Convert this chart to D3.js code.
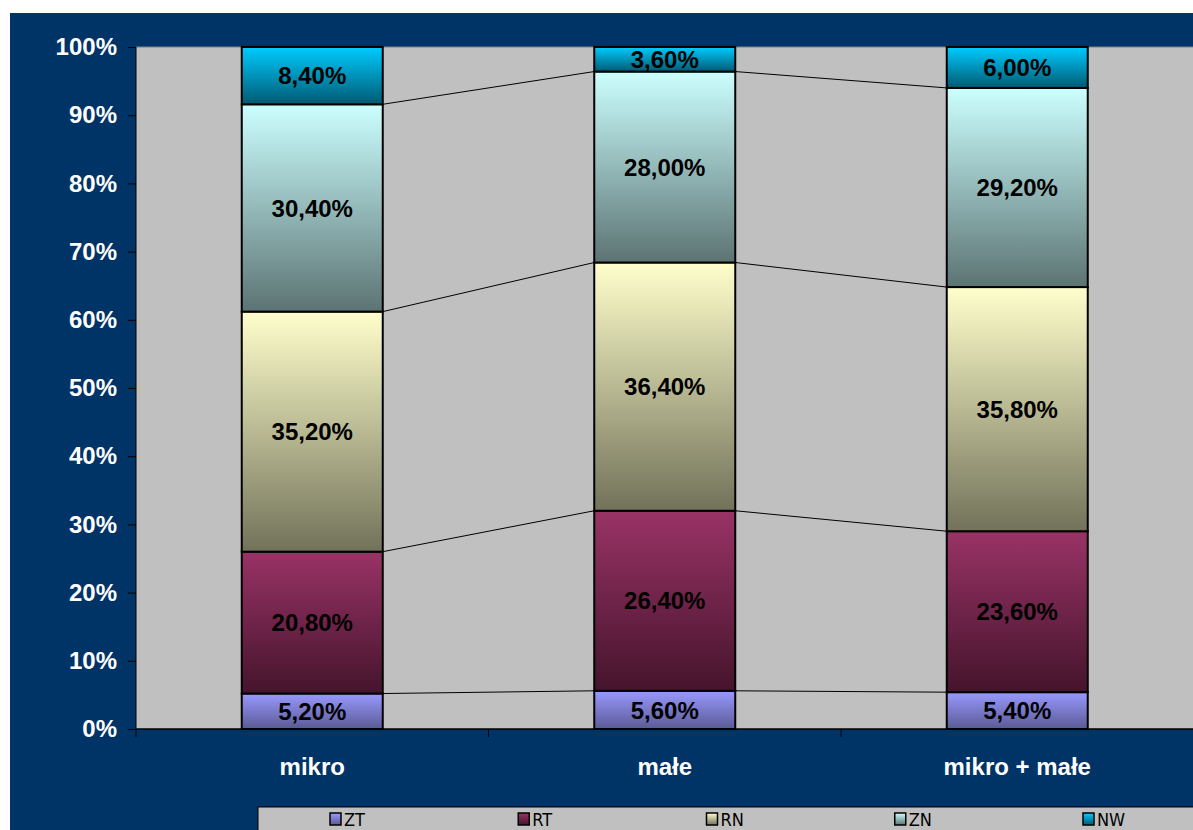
<!DOCTYPE html>
<html>
<head>
<meta charset="utf-8">
<script src="https://cdn.jsdelivr.net/npm/d3@7"></script>
<style>
  body { margin: 0; background: #fff; }
  svg { display: block; }
</style>
</head>
<body>
<div class="canvas"></div>
<script>
// data
const categories = ['mikro', 'małe', 'mikro + małe'];
const seriesNames = ['ZT', 'RT', 'RN', 'ZN', 'NW'];
const ZT = [5.2, 5.6, 5.4];
const RT = [20.8, 26.4, 23.6];
const RN = [35.2, 36.4, 35.8];
const ZN = [30.4, 28.0, 29.2];
const NW = [8.4, 3.6, 6.0];
const yTicks = [0, 10, 20, 30, 40, 50, 60, 70, 80, 90, 100];

const seriesValues = [ZT, RT, RN, ZN, NW];
const topColours = ['#9999ff', '#993366', '#ffffcc', '#ccffff', '#00ccff'];
const bottomColours = ['#5a5a96', '#45142c', '#72725a', '#5c7373', '#005a73'];

const dims = { width: 1193, height: 830 };
const plot = { left: 136, right: 1193.5, top: 47, bottom: 729 };

const svg = d3.select('.canvas')
    .append('svg')
    .attr('width', dims.width)
    .attr('height', dims.height);

// navy background
svg.append('rect')
    .attr('x', 10).attr('y', 13)
    .attr('width', dims.width - 10).attr('height', dims.height - 13)
    .attr('fill', '#003366');

const defs = svg.append('defs');
seriesNames.forEach((s, i) => {
    const g = defs.append('linearGradient')
        .attr('id', `grad-${s}`)
        .attr('x1', 0).attr('y1', 0).attr('x2', 0).attr('y2', 1);
    g.append('stop').attr('offset', '0%').attr('stop-color', topColours[i]);
    g.append('stop').attr('offset', '100%').attr('stop-color', bottomColours[i]);
});

const x = d3.scaleBand().domain(categories).range([plot.left, plot.right]);
const y = d3.scaleLinear().domain([0, 100]).range([plot.bottom, plot.top]);
const barW = x.bandwidth() * 0.4;
const barX = c => x(c) + (x.bandwidth() - barW) / 2;

// plot area
svg.append('rect')
    .attr('x', plot.left).attr('y', plot.top)
    .attr('width', plot.right - plot.left).attr('height', plot.bottom - plot.top)
    .attr('fill', '#c0c0c0');
svg.append('line')
    .attr('x1', plot.left).attr('x2', plot.right)
    .attr('y1', plot.top).attr('y2', plot.top)
    .attr('stroke', '#808080');

// stack
const rows = categories.map((c, i) => {
    const r = { cat: c };
    seriesNames.forEach((s, j) => { r[s] = seriesValues[j][i]; });
    return r;
});
const stacked = d3.stack().keys(seriesNames)(rows);

// series lines
for (let k = 0; k < seriesNames.length - 1; k++) {
    for (let i = 0; i < categories.length - 1; i++) {
        svg.append('line')
            .attr('x1', barX(categories[i]) + barW)
            .attr('y1', y(stacked[k][i][1]))
            .attr('x2', barX(categories[i + 1]))
            .attr('y2', y(stacked[k][i + 1][1]))
            .attr('stroke', '#000')
            .attr('stroke-width', 1);
    }
}

// bars
const layers = svg.selectAll('g.layer')
    .data(stacked)
    .enter().append('g')
    .attr('class', 'layer');

layers.selectAll('rect')
    .data(d => d.map(v => ({ ...v, key: d.key })))
    .enter().append('rect')
    .attr('x', d => barX(d.data.cat))
    .attr('y', d => y(d[1]))
    .attr('width', barW)
    .attr('height', d => y(d[0]) - y(d[1]))
    .attr('fill', d => `url(#grad-${d.key})`)
    .attr('stroke', '#000')
    .attr('stroke-width', 2);

const fmt = v => v.toFixed(2).replace('.', ',') + '%';

layers.selectAll('text')
    .data(d => d.map(v => ({ ...v, key: d.key })))
    .enter().append('text')
    .attr('x', d => barX(d.data.cat) + barW / 2)
    .attr('y', d => (y(d[0]) + y(d[1])) / 2)
    .attr('dy', '0.36em')
    .attr('text-anchor', 'middle')
    .attr('font-family', 'Liberation Sans, Arial, sans-serif')
    .attr('font-weight', 'bold')
    .attr('font-size', 24)
    .attr('fill', '#000')
    .text(d => fmt(d[1] - d[0]));

// y axis
const yAxis = svg.append('g')
    .attr('transform', `translate(${plot.left},0)`)
    .call(d3.axisLeft(y).tickValues(yTicks).tickSize(8).tickPadding(11).tickFormat(d => d + '%'));
yAxis.selectAll('line').attr('stroke', '#000');
yAxis.select('.domain').attr('stroke', '#000').attr('d', `M0,${plot.top}V${plot.bottom + 8}`);
yAxis.selectAll('text')
    .attr('fill', '#fff')
    .attr('font-family', 'Liberation Sans, Arial, sans-serif')
    .attr('font-weight', 'bold')
    .attr('font-size', 24);

// x axis
const xAxis = svg.append('g')
    .attr('transform', `translate(0,${plot.bottom})`);
xAxis.append('line')
    .attr('x1', plot.left).attr('x2', plot.right)
    .attr('stroke', '#000').attr('stroke-width', 1.5);
xAxis.selectAll('line.tick')
    .data(categories.slice(1))
    .enter().append('line')
    .attr('class', 'tick')
    .attr('x1', d => x(d)).attr('x2', d => x(d))
    .attr('y1', 0).attr('y2', 8)
    .attr('stroke', '#000');
xAxis.selectAll('text')
    .data(categories)
    .enter().append('text')
    .attr('x', d => x(d) + x.bandwidth() / 2)
    .attr('y', 46)
    .attr('text-anchor', 'middle')
    .attr('fill', '#fff')
    .attr('font-family', 'Liberation Sans, Arial, sans-serif')
    .attr('font-weight', 'bold')
    .attr('font-size', 24)
    .text(d => d);

// legend
const legendGroup = svg.append('g');
legendGroup.append('rect')
    .attr('x', 258).attr('y', 807)
    .attr('width', 960).attr('height', 40)
    .attr('fill', '#c0c0c0')
    .attr('stroke', '#000')
    .attr('stroke-width', 1);
const legendX = d3.scalePoint().domain(seriesNames).range([330, 1083]);
const items = legendGroup.selectAll('g.item')
    .data(seriesNames)
    .enter().append('g')
    .attr('class', 'item')
    .attr('transform', d => `translate(${legendX(d)},813)`);
items.append('rect')
    .attr('width', 11).attr('height', 12)
    .attr('fill', d => `url(#grad-${d})`)
    .attr('stroke', '#000')
    .attr('stroke-width', 1.5);
items.append('text')
    .attr('x', 14).attr('y', 12.5)
    .attr('font-family', 'Liberation Sans Narrow, DejaVu Sans Condensed, sans-serif')
    .attr('font-size', 18)
    .attr('fill', '#000')
    .text(d => d);
</script>
</body>
</html>
